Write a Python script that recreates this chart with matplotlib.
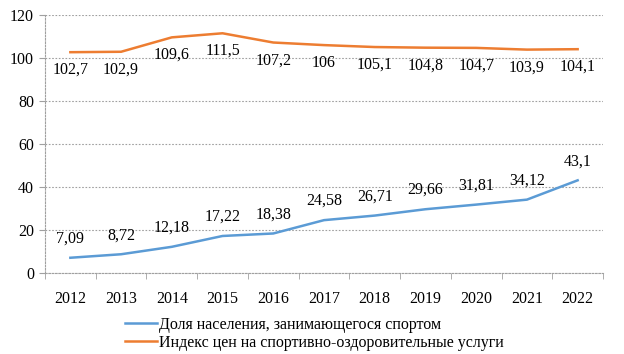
import matplotlib.pyplot as plt

plt.rcParams['font.family'] = ['Liberation Serif', 'DejaVu Serif']

years = ['2012', '2013', '2014', '2015', '2016', '2017', '2018', '2019', '2020', '2021', '2022']
dolya = [7.09, 8.72, 12.18, 17.22, 18.38, 24.58, 26.71, 29.66, 31.81, 34.12, 43.1]
indeks = [102.7, 102.9, 109.6, 111.5, 107.2, 106, 105.1, 104.8, 104.7, 103.9, 104.1]

blue = '#5B9BD5'
orange = '#ED7D31'

def fmt(v):
    s = ('%.2f' % v).rstrip('0').rstrip('.')
    return s.replace('.', ',')

fig = plt.figure(figsize=(6.24, 3.54), dpi=100)
ax = fig.add_axes([45 / 624, 1 - 273 / 354, 558 / 624, 258 / 354])

x = list(range(len(years)))
ax.plot(x, dolya, color=blue, lw=1.8, label='Доля населения, занимающегося спортом')
ax.plot(x, indeks, color=orange, lw=1.8, label='Индекс цен на спортивно-оздоровительные услуги')

for i in x:
    ax.annotate(fmt(dolya[i]), (i, dolya[i]), xytext=(0, 8), textcoords='offset points',
                ha='center', va='bottom', fontsize=11.5)
    ax.annotate(fmt(indeks[i]), (i, indeks[i]), xytext=(0, -7), textcoords='offset points',
                ha='center', va='top', fontsize=11.5)

ax.set_xlim(-0.5, len(years) - 0.5)
ax.set_ylim(0, 120)
ax.set_yticks(range(0, 121, 20))
ax.set_xticks(x)
ax.set_xticklabels(years, fontsize=11.5)
ax.set_xticks([i - 0.5 for i in range(len(years) + 1)], minor=True)
ax.tick_params(axis='x', which='major', length=0, pad=13)
ax.tick_params(axis='x', which='minor', length=4, color='#A0A0A0', direction='out')
ax.tick_params(axis='y', length=4, color='#A0A0A0', labelsize=11.5, pad=4)
ax.yaxis.grid(True, color='#A0A0A0', linestyle=(0, (1.5, 1.5)), lw=0.8)
for sp in ['top', 'right']:
    ax.spines[sp].set_visible(False)
ax.spines['left'].set_color('#A0A0A0')
ax.spines['left'].set_linestyle((0, (1.5, 1.5)))
ax.spines['bottom'].set_color('#A0A0A0')
ax.spines['bottom'].set_linestyle((0, (1.5, 1.5)))

ax.legend(loc='upper left', bbox_to_anchor=(117 / 624, 45 / 354), bbox_transform=fig.transFigure,
          frameon=False, fontsize=11.5, handlelength=2.0, handletextpad=0.15,
          labelspacing=0.1, borderpad=0)

fig.savefig('out.png', dpi=100)
